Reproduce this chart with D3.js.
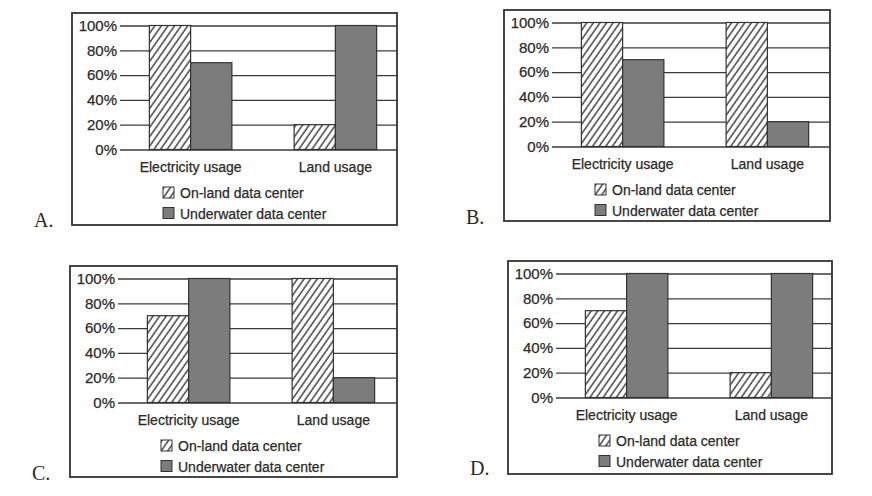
<!DOCTYPE html>
<html>
<head>
<meta charset="utf-8">
<script src="https://cdn.jsdelivr.net/npm/d3@7"></script>
<style>
  body { margin: 0; background: #fff; }
  svg { display: block; }
  text { font-family: "Liberation Sans", Arial, sans-serif; fill: #2a2a2a; stroke: #2a2a2a; stroke-width: 0.25px; }
</style>
</head>
<body>
<div id="chart"></div>
<script>
// chart values
const categories = ["Electricity usage", "Land usage"];
const seriesNames = ["On-land data center", "Underwater data center"];
const panelLabels = ["A.", "B.", "C.", "D."];
const onLandValues = [[100, 20], [100, 100], [70, 100], [70, 20]];
const underwaterValues = [[70, 100], [70, 20], [100, 20], [100, 100]];
const yTicks = [0, 20, 40, 60, 80, 100];

// where each panel box sits on the page
const boxes = [
  { x: 72, y: 13, w: 325, h: 212 },
  { x: 504, y: 10, w: 326, h: 211 },
  { x: 70, y: 266, w: 327, h: 211 },
  { x: 508, y: 261, w: 324, h: 213 }
];

const width = 872;
const height = 496;
const ink = "#333";
const gray = "#7c7c7c";

const svg = d3
  .select("#chart")
  .append("svg")
  .attr("width", width)
  .attr("height", height);

// diagonal hatching for the on-land bars
svg
  .append("defs")
  .append("pattern")
  .attr("id", "hatch")
  .attr("patternUnits", "userSpaceOnUse")
  .attr("width", 5.4)
  .attr("height", 10)
  .attr("patternTransform", "rotate(35)")
  .call(p => p.append("rect").attr("width", 5.4).attr("height", 10).attr("fill", "#fff"))
  .append("line")
  .attr("x1", 1)
  .attr("x2", 1)
  .attr("y1", 0)
  .attr("y2", 10)
  .attr("stroke", "#2a2a2a")
  .attr("stroke-width", 1.3);

const fills = ["url(#hatch)", gray];

boxes.forEach((box, i) => {
  const g = svg.append("g").attr("transform", `translate(${box.x},${box.y})`);

  // panel frame
  g.append("rect")
    .attr("width", box.w)
    .attr("height", box.h)
    .attr("fill", "#fff")
    .attr("stroke", ink)
    .attr("stroke-width", 1.8);

  const y = d3.scaleLinear().domain([0, 100]).range([136.5, 12.5]);

  const x = d3
    .scaleBand()
    .domain(categories)
    .range([60, 322])
    .paddingInner(0.43)
    .paddingOuter(0.12);

  const xSub = d3
    .scaleBand()
    .domain(seriesNames)
    .range([0, x.bandwidth()]);

  // gridlines + tick labels
  const yAxis = d3
    .axisLeft(y)
    .tickValues(yTicks)
    .tickFormat(d => d + "%")
    .tickSize(-(box.w - 48))
    .tickPadding(3);

  g.append("g")
    .attr("transform", "translate(48,0)")
    .call(yAxis)
    .call(a => a.select(".domain").remove())
    .call(a =>
      a.selectAll(".tick line").attr("stroke", "#3a3a3a").attr("stroke-width", 1.3)
    )
    .call(a =>
      a.selectAll(".tick text")
        .attr("font-size", 15)
        .attr("fill", "#2a2a2a")
        .style("font-family", "Liberation Sans, Arial, sans-serif")
    );

  // bars
  const rows = categories.map((c, k) => ({
    category: c,
    values: [onLandValues[i][k], underwaterValues[i][k]]
  }));

  g.append("g")
    .selectAll("g")
    .data(rows)
    .join("g")
    .attr("transform", d => `translate(${x(d.category)},0)`)
    .selectAll("rect")
    .data(d => d.values.map((v, s) => ({ series: seriesNames[s], value: v, s })))
    .join("rect")
    .attr("x", d => xSub(d.series))
    .attr("y", d => y(d.value))
    .attr("width", xSub.bandwidth())
    .attr("height", d => y(0) - y(d.value))
    .attr("fill", d => fills[d.s])
    .attr("stroke", "#333")
    .attr("stroke-width", 1.2);

  // category labels
  g.append("g")
    .selectAll("text")
    .data(categories)
    .join("text")
    .attr("x", d => x(d) + x.bandwidth() / 2)
    .attr("y", 159)
    .attr("text-anchor", "middle")
    .attr("font-size", 14)
    .text(d => d);

  // legend
  const legend = g
    .append("g")
    .selectAll("g")
    .data(seriesNames)
    .join("g")
    .attr("transform", (d, s) => `translate(91,${174 + s * 20.5})`);

  legend
    .append("rect")
    .attr("width", 11)
    .attr("height", 11)
    .attr("fill", (d, s) => fills[s])
    .attr("stroke", "#333")
    .attr("stroke-width", 1);

  legend
    .append("text")
    .attr("x", 17)
    .attr("y", 11)
    .attr("font-size", 14)
    .text(d => d);

  // panel letter
  g.append("text")
    .attr("x", -38)
    .attr("y", 214)
    .attr("font-size", 20)
    .style("font-family", "Liberation Serif, Times New Roman, serif")
    .style("stroke-width", 0)
    .attr("fill", "#222")
    .text(panelLabels[i]);
});
</script>
</body>
</html>
